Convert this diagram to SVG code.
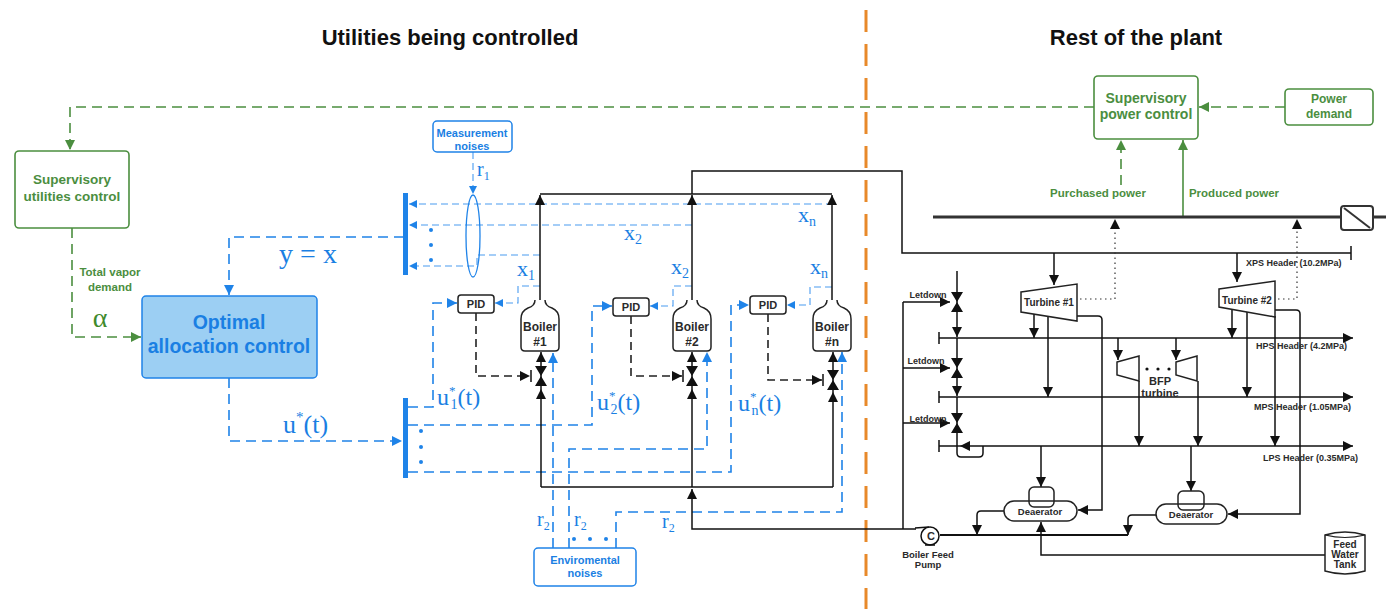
<svg xmlns="http://www.w3.org/2000/svg" width="1386" height="609" viewBox="0 0 1386 609">
<defs>
<style>
.lbl{font-family:"Liberation Sans",Arial,sans-serif;font-weight:bold;text-anchor:middle}
.title{font-size:22px;fill:#111}
.gtx{fill:#4b8e3f}
.btx{fill:#1a7fe3}
.ktx{fill:#2a2a2a}
.math{font-family:"Liberation Serif","Times New Roman",serif;fill:#1a7fe3}
.gbox{fill:#fff;stroke:#4b8e3f;stroke-width:1.6}
.bbox{fill:#fff;stroke:#1f83e8;stroke-width:1.5}
.kbox{fill:#fff;stroke:#222;stroke-width:1.5}
.gd{fill:none;stroke:#4b8e3f;stroke-width:1.6;stroke-dasharray:10 6}
.gs{fill:none;stroke:#4b8e3f;stroke-width:1.6}
.bd{fill:none;stroke:#1f83e8;stroke-width:1.6;stroke-dasharray:10 6}
.bth{fill:none;stroke:#4a9cf0;stroke-width:1.1;stroke-dasharray:7 4}
.k{fill:none;stroke:#111;stroke-width:1.5}
.kd{fill:none;stroke:#222;stroke-width:1.6;stroke-dasharray:8 5}
.kdot{fill:none;stroke:#333;stroke-width:1.2;stroke-dasharray:1.5 3.5}
</style>
<marker id="ab" viewBox="0 0 10 10" refX="10" refY="5" markerWidth="10" markerHeight="10" markerUnits="userSpaceOnUse" orient="auto"><path d="M0,0 L10,5 L0,10 z" fill="#1f83e8"/></marker>
<marker id="abs" viewBox="0 0 10 10" refX="10" refY="5" markerWidth="8" markerHeight="8" markerUnits="userSpaceOnUse" orient="auto"><path d="M0,0 L10,5 L0,10 z" fill="#1f83e8"/></marker>
<marker id="ak" viewBox="0 0 10 10" refX="10" refY="5" markerWidth="10" markerHeight="10" markerUnits="userSpaceOnUse" orient="auto"><path d="M0,0 L10,5 L0,10 z" fill="#111"/></marker>
<marker id="ag" viewBox="0 0 10 10" refX="10" refY="5" markerWidth="10" markerHeight="10" markerUnits="userSpaceOnUse" orient="auto"><path d="M0,0 L10,5 L0,10 z" fill="#4b8e3f"/></marker>
<path id="boiler" d="M-5,300 Q-5,306 -12,308 Q-19,311 -19,319 L-19,347 Q-19,351 -15,351 L15,351 Q19,351 19,347 L19,319 Q19,311 12,308 Q5,306 5,300" fill="#fff" stroke="#222" stroke-width="1.5"/>
<path id="valve" d="M-6,-10 L6,-10 L0,0 z M-6,10 L6,10 L0,0 z" fill="#111"/>
<path id="upa" d="M-5,10 L5,10 L0,0 z" fill="#111"/>
</defs>

<rect x="0" y="0" width="1386" height="609" fill="#fff"/>

<g id="titles">
<text class="lbl title" x="450" y="45">Utilities being controlled</text>
<text class="lbl title" x="1136" y="45">Rest of the plant</text>
</g>

<line id="divider" x1="866" y1="10" x2="866" y2="609" stroke="#E8892A" stroke-width="3" stroke-dasharray="22 12"/>

<g id="connectors">
<!-- green supervisory -->
<path class="gd" d="M1094,107 L70,107 L70,150" marker-end="url(#ag)"/>
<path class="gd" d="M72,228 L72,337 L141,337" marker-end="url(#ag)"/>
<path class="gd" d="M1285,107 L1199,107" marker-end="url(#ag)"/>
<path class="gd" d="M1121,185 L1121,140" marker-end="url(#ag)"/>
<path class="gs" d="M1183,216 L1183,140" marker-end="url(#ag)"/>

<!-- blue main -->
<path class="bd" d="M404,237 L229,237 L229,295" marker-end="url(#ab)"/>
<path class="bd" d="M229,378 L229,441 L402,441" marker-end="url(#ab)"/>
<path class="bth" d="M473,152 L473,194" marker-end="url(#abs)"/>
<path class="bth" d="M833,204 L409,204" marker-end="url(#abs)"/>
<path class="bth" d="M692,225 L409,225" marker-end="url(#abs)"/>
<path class="bth" d="M540,255 L477,255 L477,266 L409,266" marker-end="url(#abs)"/>
<path class="bth" d="M540,286 L518,286 L518,303 L495,303" marker-end="url(#abs)"/>
<path class="bth" d="M692,286 L673,286 L673,306 L650,306" marker-end="url(#abs)"/>
<path class="bth" d="M832,287 L810,287 L810,305 L787,305" marker-end="url(#abs)"/>
<path class="bd" d="M408,407 L433,407 L433,303 L457,303" marker-end="url(#ab)"/>
<path class="bd" d="M408,425 L592,425 L592,306 L612,306" marker-end="url(#ab)"/>
<path class="bd" d="M408,472 L731,472 L731,305 L749,305" marker-end="url(#ab)"/>
<path class="bd" d="M553,548 L553,353" marker-end="url(#ab)"/>
<path class="bd" d="M569,548 L569,449 L707,449 L707,352" marker-end="url(#ab)"/>
<path class="bd" d="M616,548 L616,512 L842,512 L842,352" marker-end="url(#ab)"/>

<!-- PID outputs -->
<path class="kd" d="M476,313 L476,376 L530,376" marker-end="url(#ak)"/>
<path class="kd" d="M631,316 L631,376 L682,376" marker-end="url(#ak)"/>
<path class="kd" d="M768,314 L768,380 L822,380" marker-end="url(#ak)"/>
<path class="k" d="M531,370 L531,382 M683,370 L683,382 M823,374 L823,386"/>

<!-- black steam / feed -->
<path class="k" d="M540,300 L540,195" marker-end="url(#ak)"/>
<path class="k" d="M692,300 L692,195" marker-end="url(#ak)"/>
<path class="k" d="M832,300 L832,195" marker-end="url(#ak)"/>
<path class="k" d="M540,194 L832,194"/>
<path class="k" d="M692,194 L692,171 L902,171 L902,253 L1351,253 M1351,246 L1351,260"/>
<path class="k" d="M541,487 L541,352" marker-end="url(#ak)"/>
<path class="k" d="M692,487 L692,352" marker-end="url(#ak)"/>
<path class="k" d="M833,487 L833,352" marker-end="url(#ak)"/>
<path class="k" d="M541,487 L833,487"/>
<path class="k" d="M916,529 L692,529 L692,489" marker-end="url(#ak)"/>
<use href="#upa" x="541" y="389"/>
<use href="#upa" x="692" y="389"/>
<use href="#upa" x="833" y="392"/>

<!-- power bus -->
<path d="M933,217 L1341,217 M1373,217 L1386,217" stroke="#333" stroke-width="3" fill="none"/>
<path class="kdot" d="M1080,299 L1115,299 L1115,219" marker-end="url(#ak)"/>
<path class="kdot" d="M1278,299 L1297,299 L1297,219" marker-end="url(#ak)"/>

<!-- turbine feeds -->
<path class="k" d="M1054,253 L1054,285" marker-end="url(#ak)"/>
<path class="k" d="M1237,253 L1237,282" marker-end="url(#ak)"/>
<path class="k" d="M1034,313 L1034,338" marker-end="url(#ak)"/>
<path class="k" d="M1048,315 L1048,397" marker-end="url(#ak)"/>
<path class="k" d="M1077,316 L1098,316 Q1102,316 1102,320 L1102,510 L1078,510" marker-end="url(#ak)"/>
<path class="k" d="M1232,308 L1232,338" marker-end="url(#ak)"/>
<path class="k" d="M1247,311 L1247,397" marker-end="url(#ak)"/>
<path class="k" d="M1275,316 L1275,446" marker-end="url(#ak)"/>
<path class="k" d="M1275,310 L1296,310 Q1300,310 1300,314 L1300,514 L1228,514" marker-end="url(#ak)"/>

<!-- headers -->
<path class="k" d="M939,338 L1353,338" marker-end="url(#ak)"/>
<path class="k" d="M939,397 L1353,397" marker-end="url(#ak)"/>
<path class="k" d="M939,446 L1353,446" marker-end="url(#ak)"/>
<path class="k" d="M939,332 L939,344 M939,391 L939,403 M939,440 L939,452"/>

<!-- letdown -->
<path class="k" d="M957,271 L957,337" marker-end="url(#ak)"/>
<path class="k" d="M957,338 L957,396" marker-end="url(#ak)"/>
<path class="k" d="M957,397 L957,453 Q957,457 961,457 L979,457 Q983,457 983,453 L983,446"/>
<path d="M960,446 L970,441 L970,451 z" fill="#111"/>
<path class="k" d="M903,302 L903,529"/>
<path class="k" d="M903,302 L950,302" marker-end="url(#ak)"/>
<path class="k" d="M903,368 L950,368" marker-end="url(#ak)"/>
<path class="k" d="M903,423 L950,423" marker-end="url(#ak)"/>

<!-- BFP -->
<path class="k" d="M1118,338 L1118,360" marker-end="url(#ak)"/>
<path class="k" d="M1139,381 L1139,446" marker-end="url(#ak)"/>
<path class="k" d="M1176,338 L1176,360" marker-end="url(#ak)"/>
<path class="k" d="M1198,381 L1198,446" marker-end="url(#ak)"/>

<!-- deaerators -->
<path class="k" d="M1041,446 L1041,487" marker-end="url(#ak)"/>
<path class="k" d="M1191,446 L1191,491" marker-end="url(#ak)"/>
<path class="k" d="M1004,511 L981,511 Q977,511 977,515 L977,535" marker-end="url(#ak)"/>
<path class="k" d="M1156,515 L1132,515 Q1128,515 1128,519 L1128,535" marker-end="url(#ak)"/>
<path d="M940,535 L1128,535" stroke="#111" stroke-width="2" fill="none"/>
<path class="k" d="M1325,555 L1041,555 L1041,522" marker-end="url(#ak)"/>
</g>

<g id="sup-utilities">
<rect class="gbox" x="15" y="151" width="114" height="77" rx="4"/>
<text class="lbl gtx" x="72" y="184" font-size="13.5">Supervisory</text>
<text class="lbl gtx" x="72" y="201" font-size="13.5">utilities control</text>
<text class="lbl gtx" x="110" y="276" font-size="11.5">Total vapor</text>
<text class="lbl gtx" x="110" y="291" font-size="11.5">demand</text>
<text x="100" y="327" font-family="Liberation Serif,serif" font-size="28" fill="#3f8a2c" text-anchor="middle">α</text>
</g>

<g id="optimal">
<rect x="142" y="296" width="175" height="82" rx="4" fill="#9ccff3" stroke="#1f83e8" stroke-width="1.5"/>
<text class="lbl btx" x="229" y="329" font-size="19.5">Optimal</text>
<text class="lbl btx" x="229" y="353" font-size="19.5">allocation control</text>
</g>

<g id="math-labels">
<text class="math" x="308" y="263" font-size="28" text-anchor="middle">y = x</text>
<text class="math" x="283" y="433" font-size="26">u<tspan font-size="15" dy="-11">*</tspan><tspan dy="11">(t)</tspan></text>
<text class="math" x="437" y="405" font-size="24">u<tspan font-size="13" dy="-10">*</tspan><tspan font-size="14" dx="-5" dy="14">1</tspan><tspan dy="-4">(t)</tspan></text>
<text class="math" x="597" y="410" font-size="24">u<tspan font-size="13" dy="-10">*</tspan><tspan font-size="14" dx="-5" dy="14">2</tspan><tspan dy="-4">(t)</tspan></text>
<text class="math" x="738" y="411" font-size="24">u<tspan font-size="13" dy="-10">*</tspan><tspan font-size="14" dx="-5" dy="14">n</tspan><tspan dy="-4">(t)</tspan></text>
<text class="math" x="477" y="176" font-size="20">r<tspan font-size="12" dy="4">1</tspan></text>
<text class="math" x="798" y="222" font-size="22">x<tspan font-size="14" dy="4">n</tspan></text>
<text class="math" x="624" y="240" font-size="22">x<tspan font-size="14" dy="4">2</tspan></text>
<text class="math" x="517" y="276" font-size="22">x<tspan font-size="14" dy="4">1</tspan></text>
<text class="math" x="671" y="274" font-size="22">x<tspan font-size="14" dy="4">2</tspan></text>
<text class="math" x="810" y="274" font-size="22">x<tspan font-size="14" dy="4">n</tspan></text>
<text class="math" x="537" y="526" font-size="20">r<tspan font-size="12" dy="4">2</tspan></text>
<text class="math" x="574" y="526" font-size="20">r<tspan font-size="12" dy="4">2</tspan></text>
<text class="math" x="662" y="528" font-size="20">r<tspan font-size="12" dy="4">2</tspan></text>
</g>

<g id="bus-bars" fill="#1f83e8">
<rect x="403" y="193" width="5" height="82"/>
<rect x="403" y="398" width="5" height="80"/>
<circle cx="431" cy="230" r="2"/><circle cx="431" cy="245" r="2"/><circle cx="431" cy="260" r="2"/>
<circle cx="421" cy="431" r="2"/><circle cx="421" cy="447" r="2"/><circle cx="421" cy="462" r="2"/>
<circle cx="574" cy="539" r="2"/><circle cx="590" cy="539" r="2"/><circle cx="606" cy="539" r="2"/>
</g>

<g id="measurement-noises">
<rect class="bbox" x="433" y="121" width="79" height="31" rx="4"/>
<text class="lbl btx" x="472" y="137" font-size="11">Measurement</text>
<text class="lbl btx" x="472" y="150" font-size="11">noises</text>
<ellipse cx="473" cy="236" rx="7" ry="41" fill="none" stroke="#1f83e8" stroke-width="1.3"/>
</g>

<g id="env-noises">
<rect class="bbox" x="534" y="548" width="102" height="38" rx="4"/>
<text class="lbl btx" x="585" y="564" font-size="11">Enviromental</text>
<text class="lbl btx" x="585" y="577" font-size="11">noises</text>
</g>

<g id="boiler1">
<use href="#boiler" x="540"/>
<text class="lbl ktx" x="540" y="331" font-size="12">Boiler</text>
<text class="lbl ktx" x="540" y="346" font-size="12">#1</text>
<use href="#valve" x="541" y="376"/>
</g>
<g id="boiler2">
<use href="#boiler" x="692"/>
<text class="lbl ktx" x="692" y="331" font-size="12">Boiler</text>
<text class="lbl ktx" x="692" y="346" font-size="12">#2</text>
<use href="#valve" x="692" y="376"/>
</g>
<g id="boilern">
<use href="#boiler" x="832"/>
<text class="lbl ktx" x="832" y="331" font-size="12">Boiler</text>
<text class="lbl ktx" x="832" y="346" font-size="12">#n</text>
<use href="#valve" x="833" y="380"/>
</g>

<g id="pid1"><rect class="kbox" x="458" y="295" width="36" height="18" rx="3"/><text class="lbl ktx" x="476" y="308" font-size="11">PID</text></g>
<g id="pid2"><rect class="kbox" x="613" y="298" width="36" height="18" rx="3"/><text class="lbl ktx" x="631" y="311" font-size="11">PID</text></g>
<g id="pidn"><rect class="kbox" x="750" y="296" width="36" height="18" rx="3"/><text class="lbl ktx" x="768" y="309" font-size="11">PID</text></g>

<g id="sup-power">
<rect class="gbox" x="1094" y="76" width="104" height="63" rx="4"/>
<text class="lbl gtx" x="1146" y="103" font-size="14">Supervisory</text>
<text class="lbl gtx" x="1146" y="119" font-size="14">power control</text>
<text class="lbl gtx" x="1098" y="197" font-size="11.5">Purchased power</text>
<text class="lbl gtx" x="1234" y="197" font-size="11.5">Produced power</text>
</g>

<g id="power-demand">
<rect class="gbox" x="1285" y="89" width="88" height="36" rx="4"/>
<text class="lbl gtx" x="1329" y="103" font-size="12">Power</text>
<text class="lbl gtx" x="1329" y="118" font-size="12">demand</text>
</g>

<g id="transformer">
<rect x="1341" y="206" width="32" height="24" rx="3" fill="#fff" stroke="#333" stroke-width="2"/>
<line x1="1344" y1="208" x2="1370" y2="228" stroke="#333" stroke-width="2"/>
</g>

<g id="header-labels" class="lbl ktx" font-size="9" text-anchor="start" style="text-anchor:start">
<text x="1246" y="266" style="text-anchor:start">XPS Header (10.2MPa)</text>
<text x="1256" y="349" style="text-anchor:start">HPS Header (4.2MPa)</text>
<text x="1254" y="410" style="text-anchor:start">MPS Header (1.05MPa)</text>
<text x="1263" y="461" style="text-anchor:start">LPS Header (0.35MPa)</text>
</g>

<g id="turbine1">
<path class="kbox" d="M1021,292 L1077,284 L1077,321 L1021,312 z"/>
<text class="lbl ktx" x="1049" y="306" font-size="10">Turbine #1</text>
</g>
<g id="turbine2">
<path class="kbox" d="M1219,289 L1275,281 L1275,317 L1219,307 z"/>
<text class="lbl ktx" x="1247" y="304" font-size="10">Turbine #2</text>
</g>

<g id="letdowns">
<use href="#valve" x="957" y="302"/>
<use href="#valve" x="957" y="368"/>
<use href="#valve" x="957" y="423"/>
<text class="lbl ktx" x="928" y="298" font-size="9">Letdown</text>
<text class="lbl ktx" x="926" y="364" font-size="9">Letdown</text>
<text class="lbl ktx" x="928" y="422" font-size="9">Letdown</text>
</g>

<g id="bfp-turbine">
<path class="kbox" d="M1117,362 L1139,356 L1139,381 L1117,375 z"/>
<path class="kbox" d="M1176,362 L1197,356 L1197,381 L1176,375 z"/>
<circle cx="1147" cy="369" r="1.6" fill="#111"/><circle cx="1158" cy="369" r="1.6" fill="#111"/><circle cx="1169" cy="369" r="1.6" fill="#111"/>
<text class="lbl ktx" x="1160" y="385" font-size="11">BFP</text>
<text class="lbl ktx" x="1160" y="397" font-size="11">turbine</text>
</g>

<g id="deaerator1">
<rect class="kbox" x="1004" y="501" width="73" height="20" rx="10"/>
<rect x="1029" y="487" width="25" height="20" rx="5" fill="none" stroke="#222" stroke-width="1.5"/>
<text class="lbl ktx" x="1040" y="515" font-size="9.5">Deaerator</text>
</g>
<g id="deaerator2">
<rect class="kbox" x="1156" y="504" width="71" height="20" rx="10"/>
<rect x="1178" y="491" width="26" height="19" rx="5" fill="none" stroke="#222" stroke-width="1.5"/>
<text class="lbl ktx" x="1191" y="518" font-size="9.5">Deaerator</text>
</g>

<g id="pump">
<path d="M915,528 L929,527" stroke="#111" stroke-width="1.5"/>
<circle cx="930" cy="536" r="9" fill="#fff" stroke="#111" stroke-width="1.5"/>
<path d="M925,545 L935,545" stroke="#111" stroke-width="1.5"/>
<text class="lbl ktx" x="931" y="540" font-size="11">C</text>
<text class="lbl ktx" x="928" y="558" font-size="9.5">Boiler Feed</text>
<text class="lbl ktx" x="928" y="568" font-size="9.5">Pump</text>
</g>

<g id="feed-water-tank">
<path d="M1325,535 Q1345,529 1365,535 L1365,571 Q1345,577 1325,571 z" fill="#fff" stroke="#222" stroke-width="1.5"/>
<path d="M1325,535 Q1345,540 1365,535" fill="none" stroke="#222" stroke-width="1.2"/>
<text class="lbl ktx" x="1345" y="548" font-size="10">Feed</text>
<text class="lbl ktx" x="1345" y="558" font-size="10">Water</text>
<text class="lbl ktx" x="1345" y="568" font-size="10">Tank</text>
</g>
</svg>
